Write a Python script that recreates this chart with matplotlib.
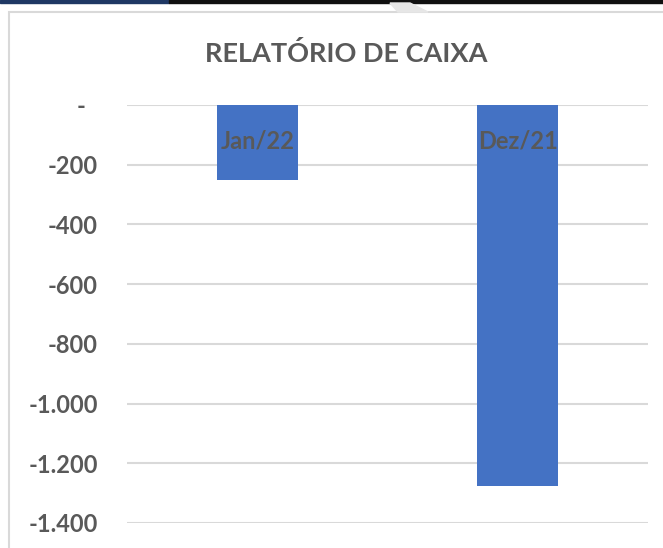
import matplotlib.pyplot as plt
from matplotlib.patches import Rectangle, Polygon

# data
categories = ["Jan/22", "Dez/21"]
values = [-250, -1275]
yticks = [0, -200, -400, -600, -800, -1000, -1200, -1400]
ytick_labels = ["-  ", "-200", "-400", "-600", "-800", "-1.000", "-1.200", "-1.400"]

plt.rcParams["font.family"] = ["Lato", "DejaVu Sans"]
grey = "#595959"

fig = plt.figure(figsize=[6.63, 5.48], dpi=100)

# chart area border (cut off on the right and bottom in the screenshot)
fig.patches.append(Rectangle((9 / 663, -0.1), 1.2, 1 - 12 / 548 + 0.1,
                             transform=fig.transFigure, fill=False,
                             edgecolor="#D9D9D9", linewidth=1.5))
# bits of the window above the chart
fig.patches.append(Rectangle((0, 1 - 3 / 548), 169 / 663, 3 / 548,
                             transform=fig.transFigure, color="#1F3864"))
fig.patches.append(Rectangle((169 / 663, 1 - 3 / 548), 1, 3 / 548,
                             transform=fig.transFigure, color="#111111"))
fig.patches.append(Polygon([(390 / 663, 1 - 3 / 548), (410 / 663, 1 - 3 / 548),
                            (428 / 663, 1 - 12 / 548), (398 / 663, 1 - 12 / 548)],
                           closed=True, transform=fig.transFigure,
                           color="#E6E6E6"))

ax = fig.add_axes([127 / 663, 1 - 523 / 548, (648 - 127) / 663, (523 - 105) / 548])
x = range(len(categories))
ax.bar(x, values, width=0.31, color="#4472C4", zorder=2)

ax.set_xlim(-0.5, 1.5)
ax.set_ylim(-1400, 0)
ax.set_yticks(yticks)
ax.set_yticklabels(ytick_labels)
ax.set_xticks([])
ax.grid(axis="y", color="#D9D9D9", linewidth=1.5, zorder=0)
ax.tick_params(axis="y", length=0, pad=21, labelsize=17, labelcolor=grey)
for lbl in ax.get_yticklabels():
    lbl.set_fontweight("bold")
for s in ax.spines.values():
    s.set_visible(False)

# category labels sit on the axis at 0, over the bars
for i, c in enumerate(categories):
    ax.text(i, -120, c, ha="center", va="center", fontsize=17,
            fontweight="bold", color=grey, zorder=3)

fig.text(346 / 663, 1 - 53 / 548, "RELATÓRIO DE CAIXA", ha="center",
         va="center", fontsize=19.5, fontweight="bold", color=grey)

fig.savefig("out.png", dpi=100)
